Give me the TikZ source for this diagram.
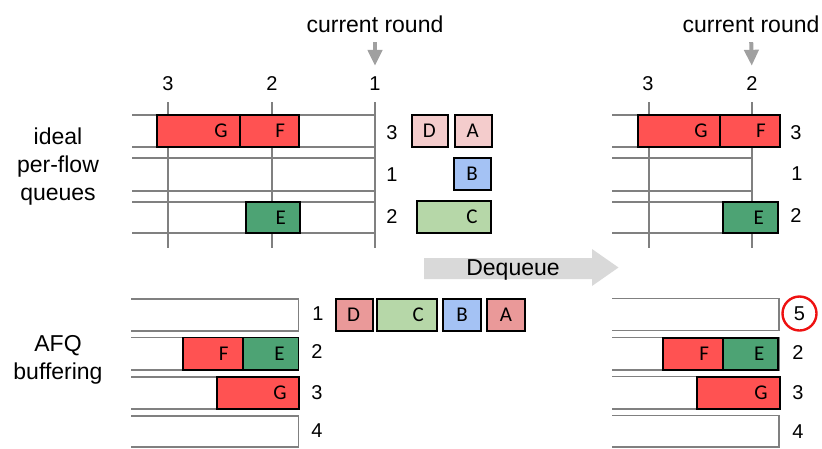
\documentclass[tikz,border=0pt]{standalone}
\usepackage{fontspec}
\setmainfont{Liberation Sans}
\newfontfamily\pktfont{Carlito}
\usetikzlibrary{arrows.meta}

\definecolor{pktred}{HTML}{FF5252}
\definecolor{pktgreen}{HTML}{4DA374}
\definecolor{pktpink}{HTML}{F4CCCC}
\definecolor{pktrose}{HTML}{EA9999}
\definecolor{pktblue}{HTML}{A4C2F4}
\definecolor{pktlime}{HTML}{B6D7A8}
\definecolor{gridgray}{HTML}{808080}
\definecolor{cursorgray}{HTML}{A0A0A0}
\definecolor{deqgray}{HTML}{D9D9D9}
\definecolor{ringred}{HTML}{EE1111}

% packet box: name, x1, y1, x2, y2, fill, letter
\newcommand\pkt[7]{%
  \node[pkt, fill=#6, minimum width={#4pt-#2pt}, minimum height={#5pt-#3pt}] (#1) at (#2,#3) {};
  \node[pkttext] (#1t) at ([xshift=-19pt]#1.east) {#7};}

% buffer row open on its left side: x1, y1, x2, y2
\newcommand\bufrow[4]{\draw[bufline] (#1,#2) -| (#3,#4) -- (#1,#4);}

\begin{document}
\begin{tikzpicture}[x=1pt, y=-1pt,
  gridline/.style={draw=gridgray, line width=1.5pt},
  bufline/.style={draw=gridgray, line width=1.5pt},
  pkt/.style={draw=black, line width=1.8pt, inner sep=0pt, outer sep=0pt, anchor=north west},
  pkttext/.style={font=\pktfont\fontsize{21}{24}\selectfont, inner sep=0pt},
  lbl/.style={font=\fontsize{20}{24}\selectfont, inner sep=0pt},
  txt/.style={font=\fontsize{23}{28}\selectfont, inner sep=0pt, align=center},
  cursor/.style={draw=cursorgray, line width=4pt, -{Triangle[width=14pt,length=16pt]}},
]
\useasboundingbox (0,0) rectangle (822,448);

% ---------- side titles ----------
\node[txt] (tIdeal) at (58,167) {ideal\\per-flow\\queues};
\node[txt] (tAfq) at (58,360) {AFQ\\buffering};

% ---------- ideal queues, before dequeue ----------
\foreach \y in {115,147,158,191,202,233}
  \draw[gridline] (132,\y) -- (375,\y);
\foreach \x in {168,272,375}
  \draw[gridline] (\x,102) -- (\x,248);
\node[lbl] (rL3) at (168,84) {3};
\node[lbl] (rL2) at (272,84) {2};
\node[lbl] (rL1) at (375,84) {1};
\node[txt, anchor=base] (crL) at (375,32) {current round};
\draw[cursor, shorten <=9.7pt, shorten >=11pt] (crL.south) -- (rL1.north);

\pkt{gL}{157.3}{115}{240}{147.3}{pktred}{G}
\pkt{fL}{240}{115}{299.3}{147.3}{pktred}{F}
\pkt{eL}{245.7}{202}{299.7}{233.3}{pktgreen}{E}

\node[lbl] (qL3) at (392,133) {3};
\node[lbl] (qL1) at (392,175) {1};
\node[lbl] (qL2) at (392,217) {2};

\pkt{dM}{411.7}{115}{448.3}{146.7}{pktpink}{D}
\pkt{aM}{455}{115}{491.7}{146.7}{pktpink}{A}
\pkt{bM}{454}{158.3}{491}{190}{pktblue}{B}
\pkt{cM}{416.7}{201}{491}{233.3}{pktlime}{C}

% ---------- dequeue arrow ----------
\fill[deqgray] (424,258) -- (592,258) -- (592,249) -- (618.5,267.5)
  -- (592,286) -- (592,279) -- (424,279) -- cycle;
\node[txt, anchor=base] (deq) at (513,275.5) {Dequeue};

% ---------- ideal queues, after dequeue ----------
\foreach \y in {115,147,158,191,202,233}
  \draw[gridline] (612,\y) -- (752,\y);
\foreach \x in {649,752}
  \draw[gridline] (\x,102) -- (\x,248);
\node[lbl] (rR3) at (648,84) {3};
\node[lbl] (rR2) at (752,84) {2};
\node[txt, anchor=base] (crR) at (751,32) {current round};
\draw[cursor, shorten <=9.7pt, shorten >=11pt] (crR.south) -- (rR2.north);

\pkt{gR}{638.3}{115}{720}{146.7}{pktred}{G}
\pkt{fR}{720}{115}{780}{146.7}{pktred}{F}
\pkt{eR}{722.7}{201.7}{777.7}{233.3}{pktgreen}{E}

\node[lbl] (qR3) at (796,133) {3};
\node[lbl] (qR1) at (797,174) {1};
\node[lbl] (qR2) at (796,216) {2};

% ---------- AFQ buffers, before dequeue ----------
\bufrow{131}{299}{298.5}{331}
\bufrow{131}{337.5}{298.5}{370}
\bufrow{131}{377}{298.5}{409}
\bufrow{131}{416}{298.5}{447}
\pkt{fB}{183.3}{337.5}{242.7}{370}{pktred}{F}
\pkt{eB}{242.7}{337.5}{298.5}{370}{pktgreen}{E}
\pkt{gB}{217.3}{377}{299}{409}{pktred}{G}

\node[lbl] (bL1) at (318,314) {1};
\node[lbl] (bL2) at (317,352) {2};
\node[lbl] (bL3) at (317,393) {3};
\node[lbl] (bL4) at (317,431) {4};

\pkt{dO}{335.7}{299}{372.7}{331}{pktrose}{D}
\pkt{cO}{377.3}{299}{437.3}{331}{pktlime}{C}
\pkt{bO}{443.3}{299}{481}{331}{pktblue}{B}
\pkt{aO}{487.3}{299}{525}{331}{pktrose}{A}

% ---------- AFQ buffers, after dequeue ----------
\bufrow{612}{298.5}{779}{330.7}
\bufrow{612}{337.7}{779}{370}
\bufrow{612}{376.7}{779}{409}
\bufrow{612}{415.7}{779}{447}
\pkt{fA}{663.3}{337.7}{723.3}{370}{pktred}{F}
\pkt{eA}{723.3}{337.7}{778.3}{370}{pktgreen}{E}
\pkt{gA}{697.3}{376.7}{780}{409}{pktred}{G}

\node[lbl] (bR1) at (799.5,313.5) {5};
\node[draw=ringred, line width=2.4pt, circle, minimum size=34pt, inner sep=0pt] (ring) at (bR1) {};
\node[lbl] (bR2) at (798,353) {2};
\node[lbl] (bR3) at (798,393) {3};
\node[lbl] (bR4) at (798,432) {4};
\end{tikzpicture}
\end{document}
